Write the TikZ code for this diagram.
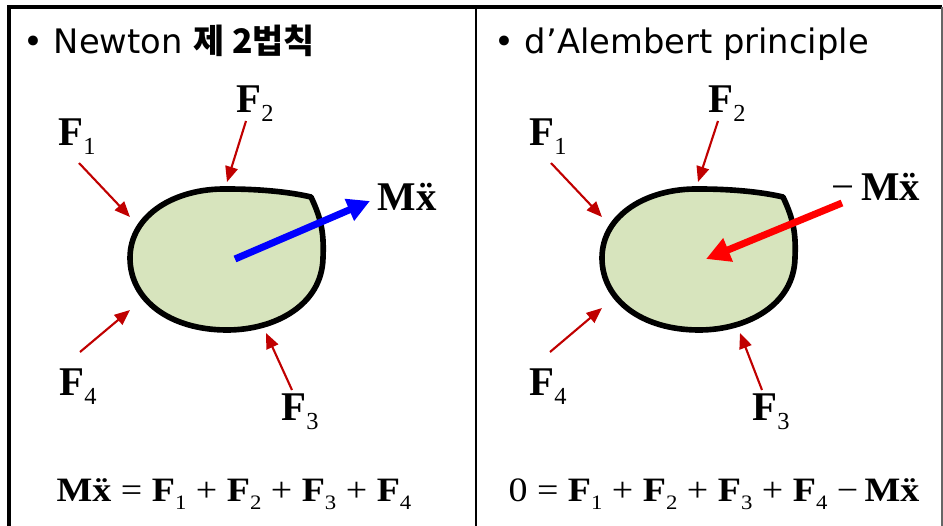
\documentclass[tikz,border=0pt]{standalone}
\usepackage{fontspec}
\setmainfont{Liberation Serif}
\newfontfamily\headfont{DejaVu Sans}
\newfontfamily\korfont{Noto Sans CJK KR}
\usepackage{xcolor}
\usepackage{tikz}
\usetikzlibrary{positioning, arrows.meta}
\definecolor{blobfill}{HTML}{D7E4BD}
\definecolor{forcered}{HTML}{C00000}

% bold vector with small lowered index
\newcommand{\vecF}[1]{\textbf{F}\raisebox{-0.24em}{\scalebox{0.6}{#1}}}
\newcommand{\Mxdd}{\textbf{M\"x}}

\begin{document}
\begin{tikzpicture}[x=0.025cm, y=-0.025cm,
  frame/.style={line width=2.2pt},
  blob/.style={draw=black, line width=4pt, fill=blobfill, line join=round},
  force/.style={draw=forcered, line width=1.5pt, -{Triangle[length=11pt,width=9pt]}},
  flabel/.style={anchor=base, inner sep=0pt, font=\fontsize{29}{30}\selectfont},
  title/.style={anchor=base west, inner sep=0pt, font=\headfont\fontsize{24}{26}\selectfont},
  eq/.style={anchor=base, inner sep=0pt, font=\fontsize{27}{28}\selectfont}]
\useasboundingbox (0,0) rectangle (943,526);

% Frame
\draw[frame] (9,526) -- (9,7) -- (942,7);
\draw[line width=1.2pt, black!60] (942,7) -- (942,526);
\draw[line width=1.6pt] (476,7) -- (476,526);

% Titles
\node[title] (ttlL) at (23,54) {• Newton {\korfont\bfseries 제 2법칙}};
\node[title] (ttlR) at (494,54) {• d’Alembert principle};

% Bodies
\foreach \dx in {0,472} {
  \begin{scope}[shift={(\dx,0)}]
  \draw[blob] (311,197) .. controls (322,220) and (324,235) .. (323,258)
    .. controls (322,305) and (275,330) .. (227,330)
    .. controls (170,330) and (130,300) .. (130,258)
    .. controls (130,215) and (175,188) .. (227,189)
    .. controls (260,189) and (290,192) .. (311,197) -- cycle;
  \end{scope}
}

% Left: Newton
\node[flabel] (F1L) at (77,145) {\vecF{1}};
\node[flabel] (F2L) at (255,112) {\vecF{2}};
\node[flabel] (F3L) at (300,420) {\vecF{3}};
\node[flabel] (F4L) at (78,395) {\vecF{4}};
\coordinate (a1L) at (79,163);  \coordinate (b1L) at (130,217);
\coordinate (a2L) at (246,121); \coordinate (b2L) at (227,182);
\coordinate (a3L) at (292,390); \coordinate (b3L) at (266,333);
\coordinate (a4L) at (80,352);  \coordinate (b4L) at (130,310);
\draw[force] (a1L) -- (b1L);
\draw[force] (a2L) -- (b2L);
\draw[force] (a3L) -- (b3L);
\draw[force] (a4L) -- (b4L);
\coordinate (cL) at (235,259);
\coordinate (tipL) at (370,201);
\draw[blue, line width=5pt, -{Triangle[length=16pt,width=16pt]}] (cL) -- (tipL);
\node[flabel] (MxL) at (407,210) {\Mxdd};
\node[eq] (eqL) at (234,501) {\scalebox{1}[0.9]{\Mxdd{} = \vecF{1} + \vecF{2} + \vecF{3} + \vecF{4}}};

% Right: d'Alembert
\node[flabel] (F1R) at (548,145) {\vecF{1}};
\node[flabel] (F2R) at (727,112) {\vecF{2}};
\node[flabel] (F3R) at (771,420) {\vecF{3}};
\node[flabel] (F4R) at (548,395) {\vecF{4}};
\coordinate (a1R) at (551,163); \coordinate (b1R) at (602,217);
\coordinate (a2R) at (718,121); \coordinate (b2R) at (698,182);
\coordinate (a3R) at (762,390); \coordinate (b3R) at (740,333);
\coordinate (a4R) at (550,352); \coordinate (b4R) at (602,308);
\draw[force] (a1R) -- (b1R);
\draw[force] (a2R) -- (b2R);
\draw[force] (a3R) -- (b3R);
\draw[force] (a4R) -- (b4R);
\coordinate (sR) at (842,203);
\coordinate (cR) at (706,259);
\draw[red, line width=5pt, -{Triangle[length=17pt,width=17pt]}] (sR) -- (cR);
\node[flabel] (MxR) at (876,200) {−\,\Mxdd};
\node[eq] (eqR) at (714,501) {\scalebox{1}[0.9]{0 = \vecF{1} + \vecF{2} + \vecF{3} + \vecF{4} −\,\Mxdd}};

\end{tikzpicture}
\end{document}
